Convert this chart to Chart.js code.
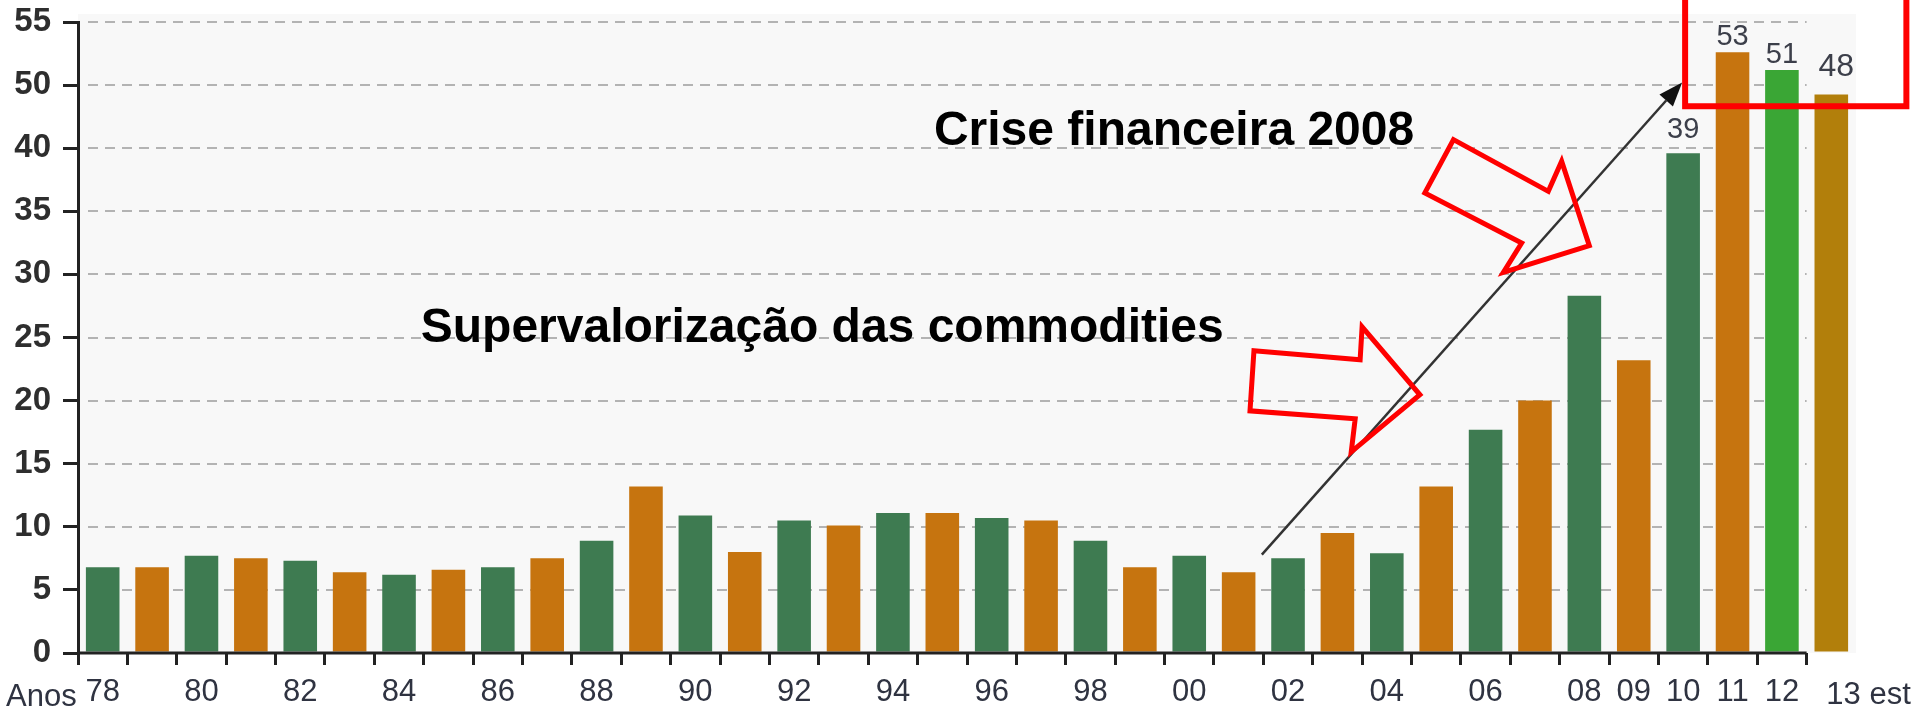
<!DOCTYPE html>
<html>
<head>
<meta charset="utf-8">
<script src="https://cdn.jsdelivr.net/npm/chart.js@4.4.1/dist/chart.umd.min.js"></script>
<style>
  html, body { margin: 0; padding: 0; background: #ffffff; }
  #wrap { width: 1915px; height: 706px; position: relative; }
</style>
</head>
<body>
<div id="wrap"><canvas id="c" width="1915" height="706"></canvas></div>
<script>
// ---------------- DATA ----------------
const categories = ['1978','1979','1980','1981','1982','1983','1984','1985','1986','1987',
  '1988','1989','1990','1991','1992','1993','1994','1995','1996','1997',
  '1998','1999','2000','2001','2002','2003','2004','2005','2006','2007',
  '2008','2009','2010','2011','2012','2013'];

const values = [6.8, 6.8, 7.7, 7.5, 7.3, 6.4, 6.2, 6.6, 6.8, 7.5,
  8.9, 13.2, 10.9, 8.0, 10.5, 10.1, 11.1, 11.1, 10.7, 10.5,
  8.9, 6.8, 7.7, 6.4, 7.5, 9.5, 7.9, 13.2, 17.7, 20.0,
  28.3, 23.2, 39.6, 52.6, 51.2, 48.5];

const xTickLabels = ['78','','80','','82','','84','','86','',
  '88','','90','','92','','94','','96','',
  '98','','00','','02','','04','','06','',
  '08','09','10','11','12','13 est'];

const yTickValues = [0, 5, 10, 15, 20, 25, 30, 35, 40, 50, 55];

const valueLabels = [null,null,null,null,null,null,null,null,null,null,
  null,null,null,null,null,null,null,null,null,null,
  null,null,null,null,null,null,null,null,null,null,
  null,null,'39','53','51','48'];

const axisTitle = 'Anos';

// annotations, in (category index, value) space
const trendArrow = { from: [23.47, 7.8], to: [31.98, 50.2] };
const redArrows = [
  [[23.31,23.95],[25.46,23.24],[25.50,25.85],[26.67,20.46],[25.28,15.94],[25.36,18.56],[23.23,19.19]],
  [[27.35,41.36],[29.27,36.58],[29.54,38.96],[30.10,32.28],[28.36,30.16],[28.73,32.49],[26.77,36.46]]
];
const redBox = { x0: 32.04, x1: 36.52, y0: 46.65, y1: 57.2 };
const noteTexts = [
  { text: 'Crise financeira 2008', x: 16.83, y: 40.57 },
  { text: 'Supervalorização das commodities', x: 6.44, y: 24.66 }
];

// ---------------- STYLES ----------------
const GREEN = '#3e7b51', ORANGE = '#c6740f', LIGHTGREEN = '#3aa635', GOLD = '#b27f0b';
const barColors = values.map((_, i) => i === 34 ? LIGHTGREEN : i === 35 ? GOLD : (i % 2 === 0 ? GREEN : ORANGE));
const NARROW = '"Liberation Sans Narrow", "Arial Narrow", "Liberation Sans", Arial, sans-serif';
const SANS = '"Liberation Sans", Arial, sans-serif';
const XFONT_SIZE = 31;

// ---------------- PIECEWISE Y SCALE ----------------
class StepLinearScale extends Chart.LinearScale {
  static id = 'steplinear';
  static defaults = {};
  buildTicks() {
    this.min = yTickValues[0];
    this.max = yTickValues[yTickValues.length - 1];
    return yTickValues.map(v => ({ value: v }));
  }
  _pos(v) {
    const t = yTickValues, n = t.length;
    if (v <= t[0]) return (v - t[0]) / (t[1] - t[0]);
    for (let i = 1; i < n; i++) {
      if (v <= t[i]) return i - 1 + (v - t[i - 1]) / (t[i] - t[i - 1]);
    }
    return n - 1 + (v - t[n - 1]) / (t[n - 1] - t[n - 2]);
  }
  getPixelForValue(v) {
    return this.getPixelForDecimal(this._pos(v) / (yTickValues.length - 1));
  }
  getValueForPixel(px) {
    const t = yTickValues, n = t.length;
    const p = this.getDecimalForPixel(px) * (n - 1);
    const i = Math.max(0, Math.min(n - 2, Math.floor(p)));
    return t[i] + (p - i) * (t[i + 1] - t[i]);
  }
}
Chart.register(StepLinearScale);

// ---------------- DECORATION PLUGIN ----------------
const deco = {
  id: 'deco',
  beforeDraw(chart) {
    const { ctx, chartArea: a } = chart;
    ctx.save();
    ctx.fillStyle = '#f8f8f8';
    ctx.fillRect(a.left, a.top - 8, a.right - a.left, a.bottom - a.top + 8);
    ctx.restore();
  },
  beforeDatasetsDraw(chart) {
    const { ctx, chartArea: a, scales: { x, y } } = chart;
    const xEnd = x.getPixelForValue(34.5);
    ctx.save();
    ctx.setLineDash([10, 7]);
    ctx.strokeStyle = '#b3b3b3';
    ctx.lineWidth = 2;
    y.ticks.forEach(t => {
      if (t.value === 0) return;
      const py = Math.round(y.getPixelForValue(t.value));
      ctx.beginPath();
      ctx.moveTo(a.left + 10, py);
      ctx.lineTo(xEnd, py);
      ctx.stroke();
    });
    ctx.restore();
  },
  afterDatasetsDraw(chart) {
    const { ctx, chartArea: a, scales: { x, y } } = chart;
    const P = (p) => [x.getPixelForValue(p[0]), y.getPixelForValue(p[1])];
    ctx.save();
    // x axis line
    ctx.strokeStyle = '#222';
    ctx.lineWidth = 3;
    ctx.beginPath();
    ctx.moveTo(a.left, a.bottom);
    ctx.lineTo(x.getPixelForValue(34.5), a.bottom);
    ctx.stroke();

    // value labels
    ctx.textAlign = 'center';
    ctx.textBaseline = 'alphabetic';
    const meta = chart.getDatasetMeta(0);
    valueLabels.forEach((lbl, i) => {
      if (!lbl) return;
      const bar = meta.data[i];
      const big = i === 35;
      ctx.fillStyle = '#3c3f4a';
      ctx.font = big ? ('32px ' + SANS) : ('29px ' + NARROW);
      const gap = big ? 19 : (i === 32 ? 15 : 7);
      ctx.fillText(lbl, bar.x + (big ? 5 : 0), bar.y - gap);
    });

    // axis title and the estimate label (left-aligned under the last bar)
    ctx.font = XFONT_SIZE + 'px ' + NARROW;
    ctx.fillStyle = '#2f3341';
    ctx.textAlign = 'left';
    ctx.fillText(axisTitle, 6, a.bottom + 53);
    ctx.fillText(xTickLabels[35], x.getPixelForValue(35) - 5, a.bottom + 51);

    // trend arrow
    const [x0, y0] = P(trendArrow.from), [x1, y1] = P(trendArrow.to);
    const ang = Math.atan2(y1 - y0, x1 - x0);
    const hl = 24, hw = 9;
    const bx = x1 - hl * Math.cos(ang), by = y1 - hl * Math.sin(ang);
    ctx.strokeStyle = '#333';
    ctx.lineWidth = 2.5;
    ctx.beginPath();
    ctx.moveTo(x0, y0);
    ctx.lineTo(bx, by);
    ctx.stroke();
    ctx.fillStyle = '#111';
    ctx.beginPath();
    ctx.moveTo(x1, y1);
    ctx.lineTo(bx + hw * Math.sin(ang), by - hw * Math.cos(ang));
    ctx.lineTo(bx - hw * Math.sin(ang), by + hw * Math.cos(ang));
    ctx.closePath();
    ctx.fill();

    // red hollow arrows
    ctx.strokeStyle = '#ff0000';
    ctx.lineWidth = 5;
    ctx.lineJoin = 'miter';
    redArrows.forEach(poly => {
      ctx.beginPath();
      poly.forEach((pt, k) => {
        const [px, py] = P(pt);
        if (k === 0) ctx.moveTo(px, py); else ctx.lineTo(px, py);
      });
      ctx.closePath();
      ctx.stroke();
    });

    // red box
    ctx.lineWidth = 6;
    const [bx0, byb] = P([redBox.x0, redBox.y0]);
    const [bx1, byt] = P([redBox.x1, redBox.y1]);
    ctx.strokeRect(bx0, byt, bx1 - bx0, byb - byt);

    // bold notes
    ctx.fillStyle = '#000';
    ctx.font = 'bold 48px ' + SANS;
    ctx.textAlign = 'left';
    noteTexts.forEach(n => {
      const [px, py] = P([n.x, n.y]);
      ctx.fillText(n.text, px, py);
    });
    ctx.restore();
  }
};

// ---------------- CHART ----------------
new Chart(document.getElementById('c'), {
  type: 'bar',
  data: {
    labels: categories,
    datasets: [{
      data: values,
      backgroundColor: barColors,
      borderWidth: 0,
      barPercentage: 0.68,
      categoryPercentage: 1.0
    }]
  },
  options: {
    responsive: false,
    devicePixelRatio: 1,
    animation: false,
    layout: { padding: { top: 22, right: 59, left: 0, bottom: 0 } },
    plugins: { legend: { display: false }, tooltip: { enabled: false } },
    scales: {
      x: {
        type: 'category',
        offset: true,
        afterFit: (s) => { s.height = 53; },
        border: { display: false },
        grid: {
          offset: true,
          drawOnChartArea: false,
          drawTicks: true,
          tickLength: 12,
          lineWidth: 3,
          color: (c) => c.type === 'tick' ? '#222' : 'rgba(0,0,0,0)'
        },
        ticks: {
          autoSkip: false,
          maxRotation: 0,
          minRotation: 0,
          padding: 9,
          color: '#2f3341',
          font: { family: NARROW, size: XFONT_SIZE },
          callback: (v, i) => i === 35 ? '' : xTickLabels[i]
        }
      },
      y: {
        type: 'steplinear',
        min: 0,
        max: 55,
        afterFit: (s) => { s.width = 78; s.paddingTop = 0; s.paddingBottom = 0; },
        border: { display: true, color: '#222', width: 3 },
        grid: {
          drawOnChartArea: false,
          drawTicks: true,
          tickLength: 15,
          lineWidth: 3,
          color: '#222'
        },
        ticks: {
          padding: 12,
          color: '#2e2e2e',
          font: { family: SANS, size: 33, weight: 'bold' },
          callback: (v) => String(v)
        }
      }
    }
  },
  plugins: [deco]
});
</script>
</body>
</html>
